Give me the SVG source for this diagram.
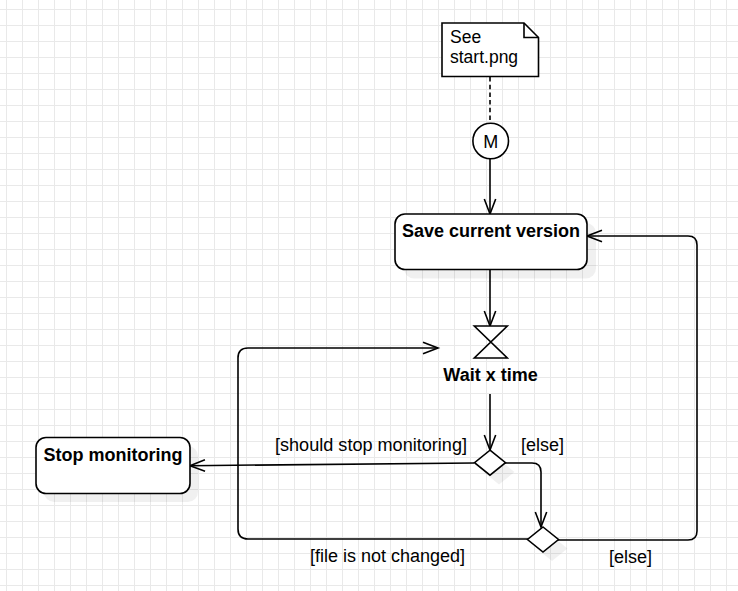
<svg xmlns="http://www.w3.org/2000/svg" width="738" height="591" viewBox="0 0 738 591">
<style>
.shape{fill:#fff;stroke:#000;stroke-width:1.6}
.shadow{fill:#000;fill-opacity:0.06;stroke:none}
.edge{fill:none;stroke:#000;stroke-width:1.6;marker-end:url(#arr)}
.t{font-family:"Liberation Sans",Arial,sans-serif;font-size:18px;fill:#000}
.n{font-size:17.5px}
.b{font-weight:bold;text-anchor:middle}
</style>
<defs>
<pattern id="grid" patternUnits="userSpaceOnUse" x="6" y="9" width="16" height="16">
<path d="M0.5 0V16M0 0.5H16" fill="none" stroke="#e9e9e9" stroke-width="1"/>
</pattern>
<marker id="arr" viewBox="-17 -8 19 16" refX="0" refY="0" markerWidth="19" markerHeight="16" markerUnits="userSpaceOnUse" orient="auto" overflow="visible">
<path d="M-15,-5.7 L0,0 L-15,5.7" fill="none" stroke="#000" stroke-width="1.6"/>
</marker>
</defs>
<rect width="738" height="591" fill="#fff"/>
<rect width="738" height="591" fill="url(#grid)"/>

<g id="connectors">
<path d="M490,77 V123" fill="none" stroke="#000" stroke-width="1.6" stroke-dasharray="4.5 3.2"/>
<path class="edge" d="M490,159 V214"/>
<path class="edge" d="M490,269 V326"/>
<path class="edge" d="M490,394 V450"/>
<path class="edge" d="M474,463 L190,465.7"/>
<path class="edge" d="M505,463 H532 Q541,463 541,472 V527"/>
<path class="edge" d="M528,539 H248 Q238,539 238,529 V358 Q238,348 248,348 H438"/>
<path class="edge" d="M558,540 H688 Q697,540 697,531 V245 Q697,236 688,236 H587"/>
<text class="t" x="275" y="451" textLength="192" lengthAdjust="spacingAndGlyphs">[should stop monitoring]</text>
<text class="t" x="521" y="451">[else]</text>
<text class="t" x="310" y="562">[file is not changed]</text>
<text class="t" x="609" y="563">[else]</text>
</g>

<g id="note">
<path class="shape" d="M442,23 H524 L538.5,37.5 V76.5 H442 Z"/>
<path d="M524,23 V37.5 H538.5" fill="none" stroke="#000" stroke-width="1.6"/>
<text class="t n" x="450" y="43">See</text>
<text class="t n" x="450" y="63">start.png</text>
</g>

<g id="start">
<circle class="shape" cx="490.7" cy="141" r="17.8"/>
<text class="t" x="490.7" y="147.5" text-anchor="middle">M</text>
</g>

<g id="save">
<rect class="shadow" x="404" y="223" width="192" height="55.5" rx="10"/>
<rect class="shape" x="395" y="214" width="192" height="55.5" rx="10"/>
<text class="t b" x="491" y="237">Save current version</text>
</g>

<g id="wait">
<path class="shape" d="M474.3,326 H507.3 L474.3,358 H507.3 Z" stroke-linejoin="miter"/>
<text class="t b" x="490.5" y="381">Wait x time</text>
</g>

<g id="decision1">
<path class="shadow" d="M499,459.5 L514.5,472 L499,484.5 L483.5,472 Z"/>
<path class="shape" d="M490,450.2 L505.5,462.7 L490,475.2 L474.5,462.7 Z"/>
</g>

<g id="decision2">
<path class="shadow" d="M552,536 L567.5,548.5 L552,561 L536.5,548.5 Z"/>
<path class="shape" d="M543,527 L558.5,539.5 L543,552 L527.5,539.5 Z"/>
</g>

<g id="stop">
<rect class="shadow" x="44" y="446" width="154" height="56" rx="10"/>
<rect class="shape" x="36" y="437.5" width="154" height="56" rx="10"/>
<text class="t b" x="113" y="461">Stop monitoring</text>
</g>
</svg>
